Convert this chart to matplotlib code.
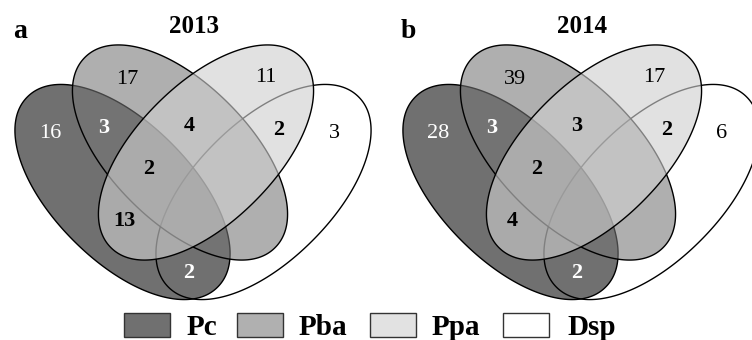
import matplotlib
matplotlib.use("Agg")
import numpy as np
import matplotlib.pyplot as plt
from matplotlib.patches import Rectangle, PathPatch
from matplotlib.path import Path

plt.rcParams['font.family'] = ['Liberation Serif', 'DejaVu Serif']

# ---------------- data ----------------
set_names = ["Pc", "Pba", "Ppa", "Dsp"]
years = ["2013", "2014"]
panel_letters = ["a", "b"]
region_sets = [("Pc",), ("Pba",), ("Ppa",), ("Dsp",),
               ("Pc", "Pba"), ("Pba", "Ppa"), ("Ppa", "Dsp"),
               ("Pc", "Pba", "Ppa"), ("Pc", "Ppa"), ("Pc", "Dsp")]
counts_2013 = [16, 17, 11, 3, 3, 4, 2, 2, 13, 2]
counts_2014 = [28, 39, 17, 6, 3, 3, 2, 2, 4, 2]
counts = [counts_2013, counts_2014]

# ---------------- layout / style ----------------
label_pos = [(50, 133), (127, 80), (266, 78), (334, 133),
             (104, 128), (189, 126), (279, 130),
             (149, 169), (124, 221), (189, 273)]
shape_geo = {"Pc": ((122.5, 192), 45), "Pba": ((180, 152.5), 45),
             "Ppa": ((206, 152.5), -45), "Dsp": ((263.5, 192), -45)}
SW, SH, SN = 269, 138, 2.05
panel_dx = [0, 388]
fills = {"Pc": ((0, 0, 0), 0.56),
         "Pba": ((118 / 255,) * 3, 0.586),
         "Ppa": ((207 / 255,) * 3, 0.62)}
legend_colors = ["#707070", "#b0b0b0", "#e2e2e2", "#ffffff"]
legend_box_x = [124, 237, 370, 503]
legend_text_x = [187, 299, 432, 567]


def blob(center, w, h, angle, n=SN, npts=400):
    t = np.linspace(0, 2 * np.pi, npts)
    c, s = np.cos(t), np.sin(t)
    x = (w / 2) * np.sign(c) * np.abs(c) ** (2 / n)
    y = (h / 2) * np.sign(s) * np.abs(s) ** (2 / n)
    th = np.deg2rad(angle)
    X = center[0] + x * np.cos(th) - y * np.sin(th)
    Y = center[1] + x * np.sin(th) + y * np.cos(th)
    return Path(np.column_stack([X, Y]), closed=True)


fig = plt.figure(figsize=(7.52, 3.40), dpi=100)
ax = fig.add_axes([0, 0, 1, 1])
ax.set_xlim(0, 752)
ax.set_ylim(340, 0)
ax.axis('off')

LW = 1.0
for p, dx in enumerate(panel_dx):
    def path(name):
        (cx, cy), ang = shape_geo[name]
        return blob((cx + dx, cy), SW, SH, ang)
    # edges of Dsp and Pc underneath fills
    for name in ["Dsp", "Pc"]:
        ax.add_patch(PathPatch(path(name), facecolor='none',
                               edgecolor='black', lw=LW, zorder=1))
    col, a = fills["Pc"]
    ax.add_patch(PathPatch(path("Pc"), facecolor=(*col, a), edgecolor='none', zorder=2))
    col, a = fills["Pba"]
    ax.add_patch(PathPatch(path("Pba"), facecolor=(*col, a), edgecolor='black',
                           lw=LW, zorder=3))
    col, a = fills["Ppa"]
    ax.add_patch(PathPatch(path("Ppa"), facecolor=(*col, a), edgecolor='black',
                           lw=LW, zorder=4))
    # counts
    for sets, val, (x, y) in zip(region_sets, counts[p], label_pos):
        dark = ("Pc" in sets) and ("Ppa" not in sets)
        ax.text(x + dx, y, str(val), ha='center', va='center',
                fontsize=16, color='white' if dark else 'black',
                fontweight='bold' if len(sets) > 1 else 'normal', zorder=5)
    ax.text(194 + dx, 33, years[p], ha='center', va='baseline',
            fontsize=18, fontweight='bold')
    ax.text(13 + dx, 38, panel_letters[p], ha='left', va='baseline',
            fontsize=20, fontweight='bold')

# legend
for name, col, bx, tx in zip(set_names, legend_colors, legend_box_x, legend_text_x):
    ax.add_patch(Rectangle((bx, 313), 46, 24, facecolor=col,
                           edgecolor='#333333', lw=1.0))
    ax.text(tx, 335, name, ha='left', va='baseline', fontsize=21,
            fontweight='bold')

fig.savefig("out.png", dpi=100)
